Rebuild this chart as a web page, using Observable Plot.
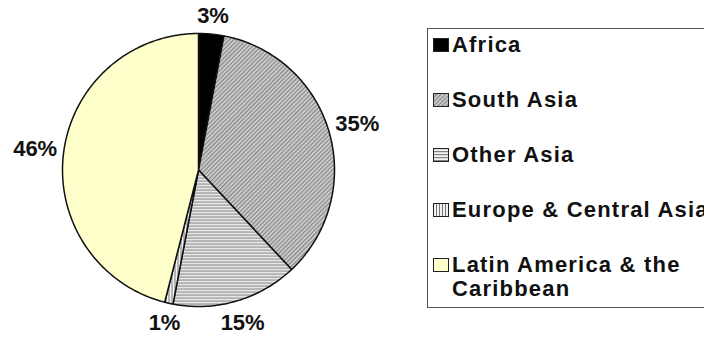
<!DOCTYPE html>
<html>
<head>
<meta charset="utf-8">
<script src="https://cdn.jsdelivr.net/npm/d3@7"></script>
<script src="https://cdn.jsdelivr.net/npm/@observablehq/plot@0.6"></script>
<style>
  html, body { margin: 0; padding: 0; background: #fff; overflow: hidden; }
  #wrap { display: flex; align-items: flex-start; width: 704px; height: 347px; overflow: hidden; }
  #chart { flex: none; width: 420px; height: 347px; }
  #chart svg { max-width: none !important; }
  #legend {
    flex: none;
    margin-left: 7px; margin-top: 28px;
    width: 300px; height: 280px;
    border: 1.5px solid #555;
    box-sizing: border-box;
    padding: 3.5px 0 0 5px;
    font-family: "Liberation Sans", Arial, Helvetica, sans-serif;
    font-weight: bold; font-size: 22px; line-height: 24px;
    letter-spacing: 1.2px; color: #111;
  }
  .item { display: flex; align-items: flex-start; margin-bottom: 31px; }
  .item svg { flex: none; margin-top: 5px; margin-right: 3px; }
  .item span { width: 258px; }
</style>
</head>
<body>
<div id="wrap"><div id="chart"></div><div id="legend"></div></div>
<script>
// ---- data ----
const regions = ["Africa", "South Asia", "Other Asia", "Europe & Central Asia", "Latin America & the Caribbean"];
const shares = [3, 35, 15, 1, 46];
const shareLabels = ["3%", "35%", "15%", "1%", "46%"];
// ---- styles ----
const fills = ["#000000", "url(#pSouth)", "url(#pOther)", "url(#pEurope)", "#ffffcc"];

const arcs = d3.pie().sort(null).value(d => d)(shares);

// wedge outlines (geometry derived from the pie angles)
const pts = [];
arcs.forEach((a, i) => {
  const r = regions[i], f = fills[i];
  pts.push({region: r, fill: f, x: 0, y: 0});
  const n = Math.max(2, Math.ceil((a.endAngle - a.startAngle) / (Math.PI / 180)));
  for (let k = 0; k <= n; k++) {
    const t = a.startAngle + (a.endAngle - a.startAngle) * k / n;
    pts.push({region: r, fill: f, x: Math.sin(t), y: Math.cos(t)});
  }
  pts.push({region: r, fill: f, x: 0, y: 0});
});

// label positions: just outside the rim, pushed out by half the label box
const radiusPx = 136;
const lbls = arcs.map((a, i) => {
  const m = (a.startAngle + a.endAngle) / 2;
  const halfW = shareLabels[i].length * 6.5, halfH = 9;
  const r = 1.06 + (halfW * Math.abs(Math.sin(m)) + halfH * Math.abs(Math.cos(m))) / radiusPx;
  return {text: shareLabels[i], x: r * Math.sin(m), y: r * Math.cos(m)};
});

const svg = Plot.plot({
  width: 420, height: 347,
  marginLeft: 62, marginRight: 86, marginTop: 33, marginBottom: 41,
  x: {domain: [-1, 1], axis: null},
  y: {domain: [-1, 1], axis: null},
  color: {type: "identity"},
  style: {fontFamily: "'Liberation Sans', Arial, Helvetica, sans-serif", background: "#fff", overflow: "visible"},
  marks: [
    Plot.line(pts, {x: "x", y: "y", z: "region", fill: "fill", stroke: "#111", strokeWidth: 1.5, strokeLinejoin: "round"}),
    Plot.text(lbls, {x: "x", y: "y", text: "text", fontSize: 22, fontWeight: "bold", fill: "#111"})
  ]
});

// hatch patterns
const defs = d3.select(svg).insert("defs", ":first-child");
const ps = defs.append("pattern").attr("id", "pSouth").attr("patternUnits", "userSpaceOnUse")
  .attr("width", 3).attr("height", 3).attr("patternTransform", "rotate(45)");
ps.append("rect").attr("width", 3).attr("height", 3).attr("fill", "#cfcfcf");
ps.append("rect").attr("width", 1.2).attr("height", 3).attr("fill", "#858585");
const po = defs.append("pattern").attr("id", "pOther").attr("patternUnits", "userSpaceOnUse")
  .attr("width", 4).attr("height", 3);
po.append("rect").attr("width", 4).attr("height", 3).attr("fill", "#f2f2f2");
po.append("rect").attr("width", 4).attr("height", 1.2).attr("fill", "#858585");
const pe = defs.append("pattern").attr("id", "pEurope").attr("patternUnits", "userSpaceOnUse")
  .attr("width", 3).attr("height", 4);
pe.append("rect").attr("width", 3).attr("height", 4).attr("fill", "#f2f2f2");
pe.append("rect").attr("width", 1).attr("height", 4).attr("fill", "#777");

document.getElementById("chart").appendChild(svg);

// legend
const legend = d3.select("#legend");
regions.forEach((r, i) => {
  const it = legend.append("div").attr("class", "item");
  const sw = it.append("svg").attr("width", 16).attr("height", 14);
  sw.append("rect").attr("x", 0.5).attr("y", 0.5).attr("width", 15).attr("height", 13)
    .attr("fill", fills[i]).attr("stroke", "#222").attr("stroke-width", 1);
  it.append("span").text(r);
});
</script>
</body>
</html>
